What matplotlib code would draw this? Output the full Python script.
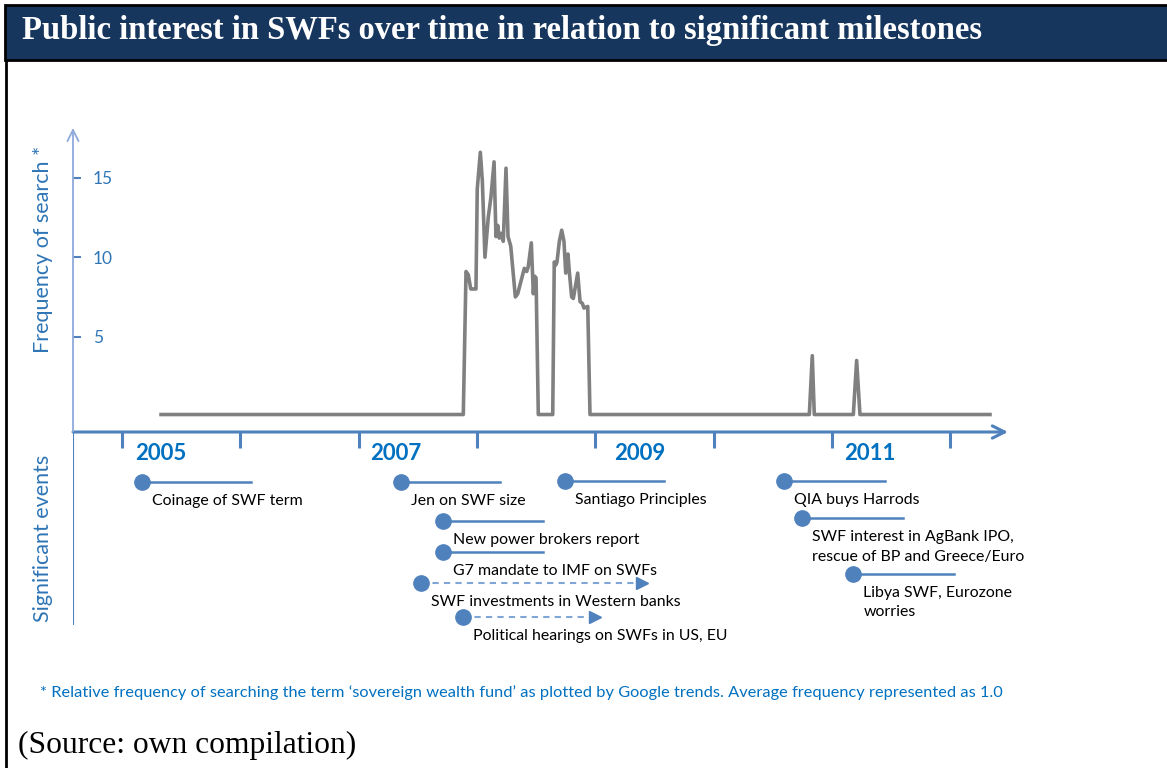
import matplotlib
matplotlib.use("Agg")
import matplotlib.pyplot as plt
from matplotlib.patches import Rectangle

# ---------------- data ----------------
search_years = [2005.33, 2007.885, 2007.908, 2007.927, 2007.948, 2007.992, 2008.003, 2008.029,
                2008.046, 2008.068, 2008.096, 2008.119, 2008.145, 2008.161, 2008.176, 2008.189,
                2008.204, 2008.223, 2008.246, 2008.263, 2008.286, 2008.325, 2008.345, 2008.401,
                2008.421, 2008.434, 2008.460, 2008.477, 2008.489, 2008.500, 2008.519, 2008.641,
                2008.654, 2008.666, 2008.677, 2008.697, 2008.717, 2008.736, 2008.751, 2008.770,
                2008.781, 2008.801, 2008.815, 2008.852, 2008.872, 2008.891, 2008.905, 2008.937,
                2008.956, 2010.810, 2010.835, 2010.852, 2011.182, 2011.210, 2011.238, 2012.337]
search_freq = [0.1, 0.1, 9.1, 8.9, 8.0, 8.0, 14.3, 16.6,
               14.8, 10.0, 12.5, 13.8, 16.0, 11.3, 12.0, 11.2,
               11.5, 11.0, 15.6, 11.3, 10.7, 7.5, 7.7, 9.3,
               9.1, 9.4, 10.9, 7.7, 8.8, 8.7, 0.1, 0.1,
               9.7, 9.5, 9.7, 11.0, 11.7, 11.0, 9.0, 10.2,
               9.1, 7.5, 7.4, 9.0, 7.2, 7.1, 6.8, 6.9,
               0.1, 0.1, 3.8, 0.1, 0.1, 3.5, 0.1, 0.1]

year_ticks = [2005, 2006, 2007, 2008, 2009, 2010, 2011, 2012]
year_labels = ["2005", "2007", "2009", "2011"]
y_ticks = [5, 10, 15]

event_labels = ["Coinage of SWF term", "Jen on SWF size", "New power brokers report",
                "G7 mandate to IMF on SWFs", "SWF investments in Western banks",
                "Political hearings on SWFs in US, EU", "Santiago Principles",
                "QIA buys Harrods", "SWF interest in AgBank IPO,\nrescue of BP and Greece/Euro",
                "Libya SWF, Eurozone\nworries"]
event_start = [2005.167, 2007.358, 2007.716, 2007.716, 2007.527, 2007.885, 2008.745,
               2010.598, 2010.751, 2011.182]
event_end = [2006.09, 2008.195, 2008.561, 2008.561, 2009.393, 2009.0, 2009.582,
             2011.45, 2011.60, 2012.03]
event_ongoing = [False, False, False, False, True, True, False, False, False, False]

# ---------------- layout ----------------
W, H = 1167, 768
fig = plt.figure(figsize=(W / 100, H / 100), dpi=100)

BLUE = "#4F81BD"
TXTBLUE = "#2E75B6"
YEARBLUE = "#0070C0"
SANS = ["Lato", "DejaVu Sans"]

# decoration overlay in pixel coordinates
deco = fig.add_axes([0, 0, 1, 1])
deco.set_xlim(0, W)
deco.set_ylim(H, 0)
deco.axis("off")
deco.add_patch(Rectangle((5, 5), W + 20, 55, facecolor="#17365D", edgecolor="black", lw=2.0))
deco.plot([6, 6], [60, H + 5], color="black", lw=2.0)
deco.text(22, 31, "Public interest in SWFs over time in relation to significant milestones",
          color="white", fontsize=23.5, fontweight="bold", family="Liberation Serif",
          ha="left", va="center")
deco.text(43, 249, "Frequency of search *", rotation=90, color=TXTBLUE, fontsize=15.5,
          family=SANS, ha="center", va="center")
deco.text(43, 538, "Significant events", rotation=90, color=TXTBLUE, fontsize=15.5,
          family=SANS, ha="center", va="center")
deco.text(40, 693, "* Relative frequency of searching the term \u2018sovereign wealth fund\u2019 as plotted by Google trends. Average frequency represented as 1.0",
          color=YEARBLUE, fontsize=11.8, family=SANS, ha="left", va="center")
deco.text(18, 745, "(Source: own compilation)", color="black", fontsize=22.7,
          family="Liberation Serif", ha="left", va="center")

# chart axes: x from px 73 to 1010, y from px 128 to 432
x0_px, x1_px = 73, 1010
XMIN = 2005 + (x0_px - 122) / 118.3
XMAX = 2005 + (x1_px - 122) / 118.3
ax = fig.add_axes([x0_px / W, 1 - 432 / H, (x1_px - x0_px) / W, (432 - 128) / H])
ax.patch.set_alpha(0)
ax.set_xlim(XMIN, XMAX)
ax.set_ylim(-1.0, 18.13)
for s in ax.spines.values():
    s.set_visible(False)

ax.plot(search_years, search_freq, color="#808080", lw=2.6, solid_joinstyle="round", zorder=3)

# x axis with arrow
ax.annotate("", xy=(2005 + (1008 - 122) / 118.3, -1.0), xytext=(XMIN, -1.0),
            xycoords="data", arrowprops=dict(arrowstyle="->", color=BLUE, lw=2.2,
                                             mutation_scale=22, shrinkA=0, shrinkB=0),
            annotation_clip=False)
ax.set_xticks(year_ticks)
ax.tick_params(axis="x", direction="out", length=11.5, width=2.2, color=BLUE,
               labelbottom=False)

# y axis with arrow
ax.annotate("", xy=(XMIN, 18.13), xytext=(XMIN, -1.0),
            xycoords="data", arrowprops=dict(arrowstyle="->", color="#8EA9DB", lw=1.3,
                                             mutation_scale=20, shrinkA=0, shrinkB=0),
            annotation_clip=False)
ax.set_yticks(y_ticks)
ax.set_yticklabels([str(v) for v in y_ticks])
ax.tick_params(axis="y", direction="in", length=6, width=1.5, color=BLUE,
               labelcolor=TXTBLUE, labelsize=12.5, pad=-14.4)
for lab in ax.get_yticklabels():
    lab.set_horizontalalignment("left")
    lab.set_family(SANS)

# events axes: px 432 to 650
ev = fig.add_axes([x0_px / W, 1 - 650 / H, (x1_px - x0_px) / W, (650 - 432) / H])
ev.patch.set_alpha(0)
ev.set_xlim(XMIN, XMAX)
ev.set_ylim(650, 432)
ev.axis("off")
ev.plot([XMIN, XMIN], [432, 625], color=BLUE, lw=1.5, solid_capstyle="butt")

year_offsets = [0.11, 0.10, 0.16, 0.10]
for yl, off in zip(year_labels, year_offsets):
    ev.text(int(yl) + off, 453, yl, color=YEARBLUE, fontsize=16, fontweight="bold",
            family=SANS, ha="left", va="center")

event_rows = [482, 482, 521, 552, 583, 617, 481, 481, 518, 574]
for lab, xs, xe, ongoing, row in zip(event_labels, event_start, event_end, event_ongoing, event_rows):
    if ongoing:
        ev.plot([xs, xe - 0.05], [row, row], color="#7FA6D6", lw=1.5, ls=(0, (3, 2.5)), zorder=2)
        ev.plot([xe], [row], marker=">", ms=8, color=BLUE, mec=BLUE, zorder=3)
    else:
        ev.plot([xs, xe], [row, row], color=BLUE, lw=1.8, zorder=2)
    ev.plot([xs], [row], marker="o", ms=11, color=BLUE, mec=BLUE, zorder=4)
    ev.text(xs + 0.085, row + 12, lab, color="black", fontsize=11.4, family=SANS,
            ha="left", va="top", linespacing=1.5)

fig.savefig("out.png", dpi=100)
